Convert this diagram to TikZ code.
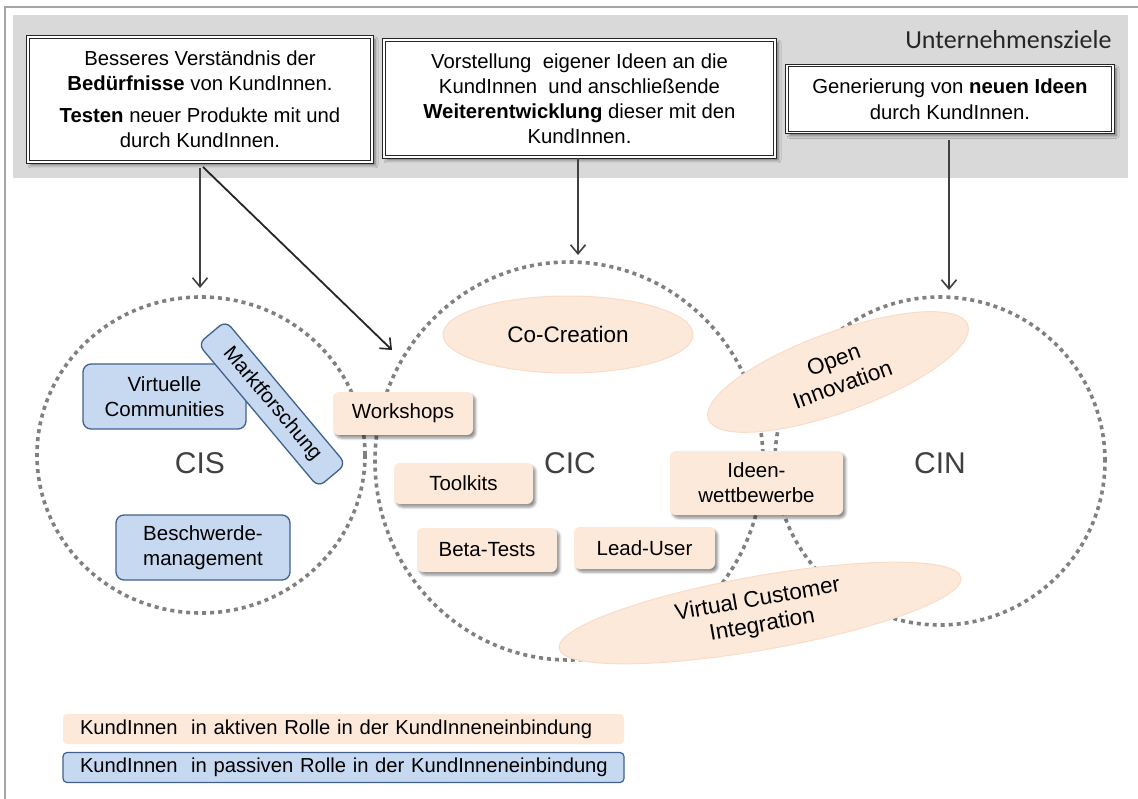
\documentclass[tikz,border=0pt]{standalone}
\usepackage{fontspec}
\setmainfont{Liberation Sans}
\newfontfamily\calib{Carlito}
\usetikzlibrary{shapes.geometric,shadows.blur,arrows.meta}
\definecolor{peach}{HTML}{FDE9D9}
\definecolor{peachline}{HTML}{F9DCC8}
\definecolor{bluefill}{HTML}{C6D9F1}
\definecolor{blueline}{HTML}{41618C}
\definecolor{bandgray}{HTML}{D9D9D9}
\definecolor{dotgray}{HTML}{808080}
\definecolor{labelgray}{HTML}{404040}
\definecolor{framegray}{HTML}{A6A6A6}
\begin{document}
\begin{tikzpicture}[x=1pt,y=-1pt,
  goalbox/.style={rectangle, draw=black!85, line width=1.1pt, double=white, double distance=1.2pt,
    fill=white, align=center, inner sep=0pt, font=\fontsize{20.3}{25}\selectfont,
    blur shadow={shadow xshift=3pt, shadow yshift=-3pt, shadow blur radius=3pt, shadow opacity=50}},
  actbox/.style={rectangle, rounded corners=6pt, fill=peach, draw=none, align=center, inner sep=0pt,
    font=\fontsize{20.5}{25}\selectfont,
    blur shadow={shadow xshift=2.5pt, shadow yshift=-3pt, shadow blur radius=2.5pt, shadow opacity=45}},
  pasbox/.style={rectangle, rounded corners=8pt, fill=bluefill, draw=blueline, line width=1.3pt,
    align=center, inner sep=0pt, font=\fontsize{20.5}{25}\selectfont},
  actell/.style={ellipse, fill=peach, draw=peachline, line width=1pt, align=center, inner sep=0pt,
    font=\fontsize{22.5}{26}\selectfont},
  ring/.style={ellipse, draw=dotgray, line width=3.6pt, dash pattern=on 4pt off 4pt, inner sep=0pt},
  ringlabel/.style={font=\fontsize{30}{30}\selectfont, text=labelgray},
  arr/.style={-{Straight Barb[length=9pt,width=15pt,line width=1.6pt]}, line width=1.8pt, draw=black!85},
  legbox/.style={rectangle, align=left, inner ysep=0pt, inner xsep=17pt, text width=527pt,
    minimum height=30pt, font=\fontsize{20.2}{24}\selectfont}
]
\useasboundingbox (0,0) rectangle (1138,799);
% frame and band
\draw[framegray, line width=1.5pt] (5,799) -- (5,7) -- (1138,7);
\fill[bandgray] (13,15) rectangle (1128,178);
\node[anchor=east, font=\calib\fontsize{26}{26}\selectfont, text=black!85] (ziele) at (1115,40) {Unternehmensziele};

% goal boxes
\node[goalbox, minimum width=344pt, minimum height=125pt] (b1) at (200,99.5)
  {Besseres Verständnis\ der\\ \textbf{Bedürfnisse} von KundInnen.\\[7pt] \textbf{Testen} neuer\ Produkte mit und\\ durch\ KundInnen.};
\node[goalbox, minimum width=391pt, minimum height=117pt] (b2) at (579.5,98.5)
  {Vorstellung\ \ eigener Ideen\ an die\\ KundInnen\ \ und anschließende\\ \textbf{Weiterentwicklung} dieser mit den\\ KundInnen.};
\node[goalbox, minimum width=326pt, minimum height=67pt] (b3) at (950,99)
  {Generierung\ von\ \textbf{neuen Ideen}\\[1pt] durch KundInnen.};

% rings
\node[ring, minimum width=328pt, minimum height=316pt] (cis) at (201,455) {};
\node[ring, minimum width=388pt, minimum height=398pt] (cic) at (569,461) {};
\node[ring, minimum width=330pt, minimum height=328pt] (cin) at (940,461) {};
\node[ringlabel] (cislab) at (200,463) {CIS};
\node[ringlabel] (ciclab) at (570,463) {CIC};
\node[ringlabel] (cinlab) at (940,463) {CIN};

% arrows
\coordinate (t1) at (200,288);
\coordinate (d1) at (203,167);
\coordinate (t2) at (392,350);
\coordinate (t3) at (578,255);
\coordinate (t4) at (949,290);
\draw[arr, draw=black!75] ([yshift=-5pt]b1.south) -- (t1);
\draw[arr] (d1) -- (t2);
\draw[arr, draw=black!75] ([xshift=-1.5pt]b2.south) -- (t3);
\draw[arr, draw=black!75] ([xshift=-1pt,yshift=-7pt]b3.south) -- (t4);

% passive (blue)
\node[pasbox, minimum width=163pt, minimum height=65pt] (vc) at (164.5,396.5) {Virtuelle\\ Communities};
\node[pasbox, minimum width=187pt, minimum height=36pt, rotate=-50] (mf) at (272,404) {Marktforschung};
\node[pasbox, minimum width=174pt, minimum height=65pt] (bm) at (203,547.5) {Beschwerde-\\ management};

% active (peach)
\node[actell, minimum width=250pt, minimum height=77pt] (cc) at (568,334.5) {Co-Creation};
\node[actell, minimum width=276pt, minimum height=80pt, rotate=20] (oi) at (838,372) {Open\\ Innovation};
\node[actell, minimum width=408pt, minimum height=74pt, rotate=10] (vci) at (760,613) {Virtual Customer\\ Integration};
\node[actbox, minimum width=140pt, minimum height=43pt] (ws) at (403,413.5) {Workshops};
\node[actbox, minimum width=139pt, minimum height=41pt] (tk) at (463.5,483.5) {Toolkits};
\node[actbox, minimum width=140pt, minimum height=44pt] (bt) at (487,550) {Beta-Tests};
\node[actbox, minimum width=141pt, minimum height=42pt] (lu) at (644.5,548) {Lead-User};
\node[actbox, minimum width=173pt, minimum height=64pt] (iw) at (756.5,483) {Ideen-\\ wettbewerbe};

% legend
\node[legbox, fill=peach, rounded corners=4pt] (leg1) at (343.5,729) {\mbox{KundInnen\ \ in aktiven Rolle in der KundInneneinbindung}};
\node[legbox, fill=bluefill, draw=blueline, line width=1.2pt, rounded corners=4pt] (leg2) at (343.5,767.5) {\mbox{KundInnen\ \ in passiven Rolle in der KundInneneinbindung}};
\end{tikzpicture}
\end{document}
